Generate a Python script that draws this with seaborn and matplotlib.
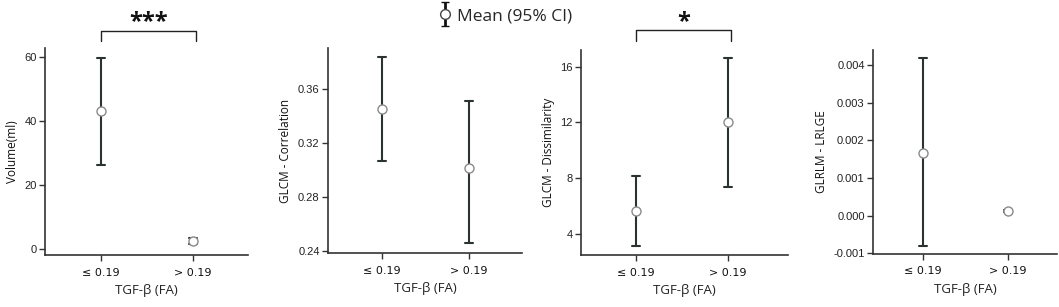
import matplotlib
matplotlib.use("Agg")
import matplotlib.pyplot as plt
from matplotlib.legend_handler import HandlerErrorbar
import seaborn as sns
import pandas as pd
import numpy as np

groups = ["≤ 0.19", "> 0.19"]

vol_mean = [43.0, 2.4]
vol_lo = [26.3, 1.5]
vol_hi = [59.5, 3.4]

corr_mean = [0.345, 0.3016]
corr_lo = [0.3067, 0.2457]
corr_hi = [0.3834, 0.3512]

diss_mean = [5.63, 12.0]
diss_lo = [3.09, 7.33]
diss_hi = [8.14, 16.65]

lrlge_mean = [0.00167, 0.000125]
lrlge_lo = [-0.000806, 0.000105]
lrlge_hi = [0.00418, 0.000145]

ylabels = ["Volume(ml)", "GLCM - Correlation", "GLCM - Dissimilarity", "GLRLM - LRLGE"]
yticks = [[0, 20, 40, 60], [0.24, 0.28, 0.32, 0.36], [4, 8, 12, 16],
          [-0.001, 0.0, 0.001, 0.002, 0.003, 0.004]]
ytick_labels = [["0", "20", "40", "60"], ["0.24", "0.28", "0.32", "0.36"],
                ["4", "8", "12", "16"],
                ["-0.001", "0.000", "0.001", "0.002", "0.003", "0.004"]]
ylims = [(-1.9, 62.7), (0.2385, 0.39), (2.47, 17.2), (-0.00102, 0.0044)]
xlabel = "TGF-β (FA)"
sig = ["***", None, "*", None]

series = [(vol_mean, vol_lo, vol_hi), (corr_mean, corr_lo, corr_hi),
          (diss_mean, diss_lo, diss_hi), (lrlge_mean, lrlge_lo, lrlge_hi)]

sns.set_style("white")
plt.rcParams["font.family"] = ["Open Sans", "DejaVu Sans"]

W, H = 1059, 307
fig = plt.figure(figsize=(W / 100, H / 100), dpi=100)

# axes boxes in pixels: left, right, top, bottom
boxes = [(45, 248, 48, 255), (328, 522, 48, 253), (581, 788, 50, 255), (873, 1057, 50, 254)]
xlims = [(-0.609, 1.598), (-0.621, 1.609), (-0.598, 1.652), (-0.583, 1.574)]

dark = "#2b3330"
for i, (box, (m, lo, hi)) in enumerate(zip(boxes, series)):
    l, r, t, b = box
    ax = fig.add_axes([l / W, (H - b) / H, (r - l) / W, (b - t) / H])
    rows = []
    for g, a, mm, c in zip(groups, lo, m, hi):
        for v in (a, mm, c):
            rows.append({"group": g, "value": v})
    df = pd.DataFrame(rows)
    sns.pointplot(data=df, x="group", y="value", order=groups, estimator="median",
                  errorbar=("pi", 100), color=dark, linestyle="none", capsize=0.09,
                  err_kws={"linewidth": 1.5, "color": dark, "zorder": 2},
                  marker="o", markersize=6.5, markerfacecolor="white",
                  markeredgecolor="#8a8a8a", markeredgewidth=1.0, zorder=5, ax=ax)
    ax.set_xlim(*xlims[i])
    ax.set_ylim(*ylims[i])
    ax.set_yticks(yticks[i])
    ax.set_yticklabels(ytick_labels[i], fontsize=8, color="#222222",
                       family=["Liberation Sans", "DejaVu Sans"])
    ax.set_xticks([0, 1])
    ax.set_xticklabels(groups, fontsize=8, color="#111111",
                       family=["DejaVu Sans"])
    ax.set_xlabel(xlabel, fontsize=9.5, color="#222222", labelpad=5)
    ax.set_ylabel(ylabels[i], fontsize=8.5, color="#111111", labelpad=4)
    for s in ["top", "right"]:
        ax.spines[s].set_visible(False)
    for s in ["left", "bottom"]:
        ax.spines[s].set_color("#333333")
        ax.spines[s].set_linewidth(1.2)
    ax.tick_params(axis="y", left=True, direction="out", length=4, width=1,
                   color="#333333", pad=2)
    ax.tick_params(axis="x", bottom=True, direction="out", length=4, width=1,
                   color="#333333", pad=5)
    if sig[i]:
        tr = ax.get_xaxis_transform()
        h = b - t
        ytop = (b - 30.5) / h
        yleg = (b - 41) / h
        ax.plot([0, 0, 1.03, 1.03], [yleg, ytop, ytop, yleg], transform=tr,
                color="#222222", lw=1.0, clip_on=False)
        ax.text(0.515, (b - 22) / h, sig[i], transform=tr, ha="center", va="center",
                fontsize=17, fontweight="bold", color="#111111")

# legend
lax = fig.add_axes([0, 0, 1, 1], facecolor="none")
lax.set_xlim(0, 1)
lax.set_ylim(0, 1)
lax.set_axis_off()
handle = lax.errorbar([0.5], [-10], yerr=[1], fmt="o", color="#111111", markersize=7,
                      markerfacecolor="white", markeredgecolor="#444444",
                      capsize=3, elinewidth=2, label="Mean (95% CI)")
fig.legend(handles=[handle], labels=["Mean (95% CI)"], loc="center",
           bbox_to_anchor=(506 / W, 1 - 16 / H), frameon=False, fontsize=12.5,
           handlelength=0.6, handletextpad=0.4, borderpad=0,
           handler_map={type(handle): HandlerErrorbar(yerr_size=0.68)})

fig.savefig("out.png", dpi=100)
